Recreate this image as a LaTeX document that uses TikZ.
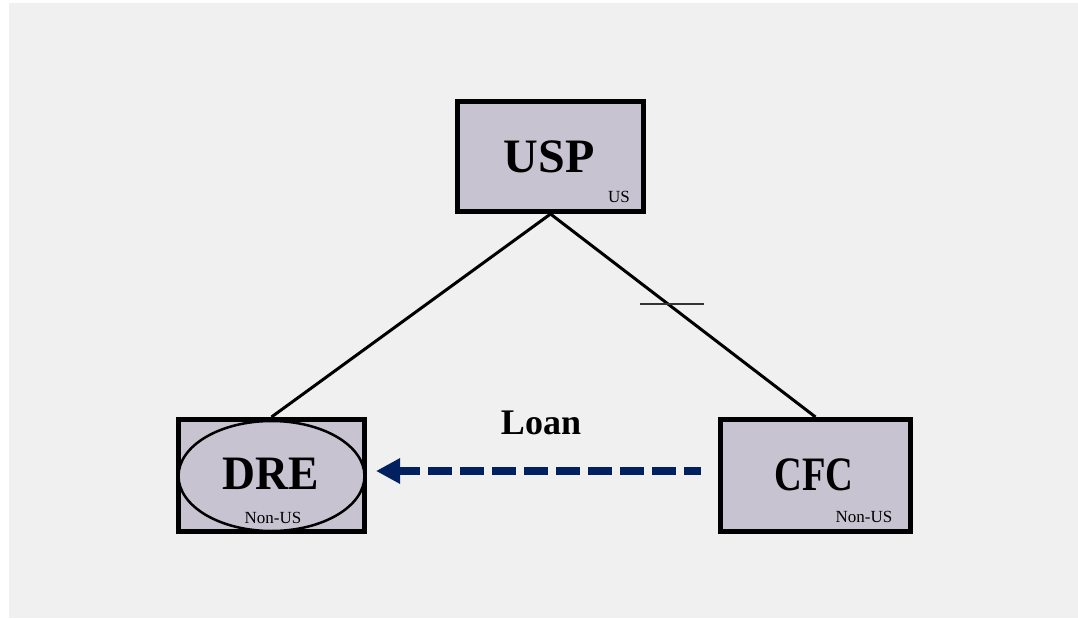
\documentclass[tikz,border=0pt]{standalone}
\usepackage{fontspec}
\setmainfont{Liberation Serif}
\usetikzlibrary{shapes.geometric,arrows.meta}
\definecolor{panel}{HTML}{F0F0F0}
\definecolor{boxfill}{HTML}{C8C3D1}
\definecolor{loannavy}{HTML}{002060}
\tikzset{
  entity/.style={draw=black, line width=5pt, fill=boxfill, rectangle, inner sep=0pt},
  bigname/.style={font=\bfseries\fontsize{48}{48}\selectfont, inner sep=0pt},
  tag/.style={font=\fontsize{17}{17}\selectfont, inner sep=0pt},
  link/.style={draw=black, line width=3pt},
  loanline/.style={draw=loannavy, line width=8pt},
}
\begin{document}
\begin{tikzpicture}[x=1pt,y=-1pt]
  \useasboundingbox (0,0) rectangle (1078,618);
  \fill[white] (0,0) rectangle (1078,618);
  \fill[panel] (9,3) rectangle (1078,618);

  % entities
  \node[entity, minimum width=186pt, minimum height=110pt] (usp) at (550.5,156.5) {};
  \node[entity, minimum width=186pt, minimum height=112pt] (dre) at (271.5,475.5) {};
  \node[entity, minimum width=190pt, minimum height=112pt] (cfc) at (815.5,475.5) {};
  \node[draw=black, line width=2.5pt, fill=boxfill, ellipse, inner sep=0pt,
        minimum width=186pt, minimum height=110pt] (dreoval) at (271.5,476) {};

  % labels
  \node[bigname] (usplabel) at (549,157) {USP};
  \node[tag] (ustag) at (619,197) {US};
  \node[bigname] (drelabel) at (271,474) {\scalebox{0.95}[1]{DRE}};
  \node[tag] (dretag) at (273,518) {Non-US};
  \node[bigname] (cfclabel) at (814,475) {\scalebox{0.8}[1]{CFC}};
  \node[tag] (cfctag) at (864,517) {Non-US};
  \node[font=\bfseries\fontsize{36}{36}\selectfont, inner sep=0pt] (loan) at (541,423) {Loan};

  % ownership lines
  \draw[link] (usp.south) -- (dre.north);
  \draw[link] (usp.south) -- (cfc.north);

  % tick across the CFC line
  \coordinate (tickl) at (640,304);
  \coordinate (tickr) at (704,304);
  \draw[line width=1.6pt, draw=black!80] (tickl) -- (tickr);

  % loan arrow: dashed shaft from CFC, solid head at the DRE end
  \coordinate (loanstart) at (701,471);
  \coordinate (loanend) at (376,471);
  \coordinate (headbase) at (404,471);
  \draw[loanline, dash pattern=on 24pt off 8pt, shorten <=20pt] (loanend) -- (loanstart);
  \draw[loanline, {Triangle[length=24pt,width=24pt]}-] (loanend) -- (headbase);
\end{tikzpicture}
\end{document}
